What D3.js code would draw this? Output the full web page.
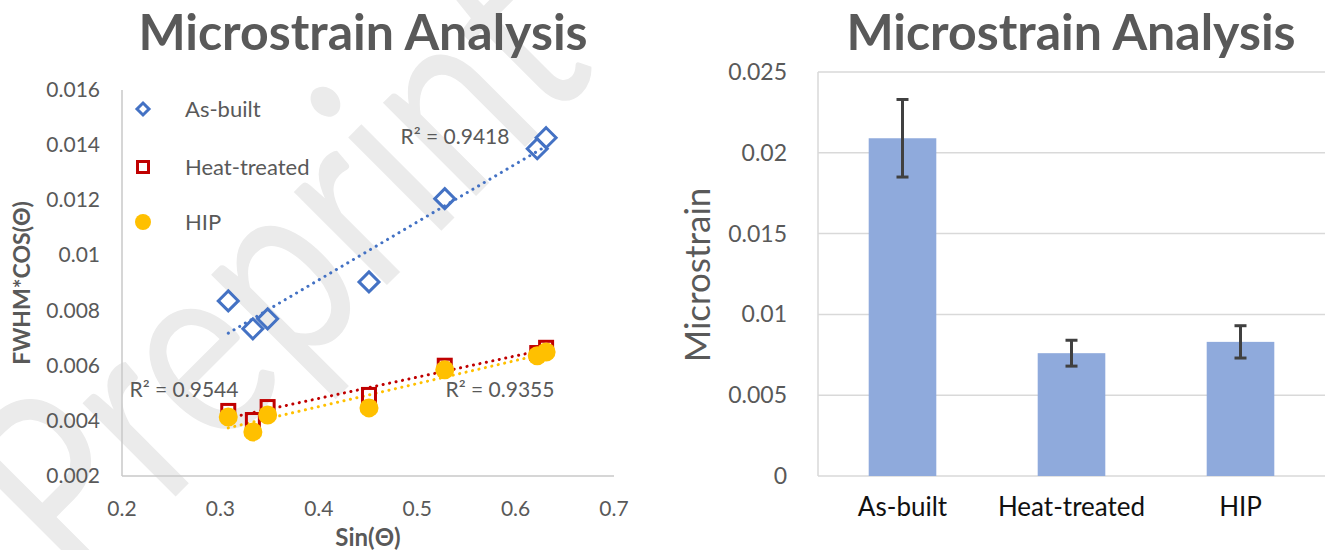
<!DOCTYPE html>
<html>
<head>
<meta charset="utf-8">
<script src="https://cdn.jsdelivr.net/npm/d3@7"></script>
<style>
  body { margin: 0; background: #fff; }
  svg { display: block; font-family: Lato, "Open Sans", sans-serif; }
</style>
</head>
<body>
<svg id="chart"></svg>
<script>
// values
var sinTheta = [0.308, 0.333, 0.348, 0.451, 0.528, 0.622, 0.631];
var asBuilt = [0.00835, 0.00734, 0.0077, 0.00904, 0.01206, 0.01387, 0.01427];
var heatTreated = [0.00436, 0.00403, 0.0045, 0.00494, 0.0060, 0.00646, 0.00665];
var hip = [0.00414, 0.0036, 0.00421, 0.00447, 0.00585, 0.00636, 0.0065];
var seriesNames = ["As-built", "Heat-treated", "HIP"];
var r2Labels = ["R\u00b2 = 0.9418", "R\u00b2 = 0.9544", "R\u00b2 = 0.9355"];
var scatterXTicks = [0.2, 0.3, 0.4, 0.5, 0.6, 0.7];
var scatterYTicks = [0.002, 0.004, 0.006, 0.008, 0.01, 0.012, 0.014, 0.016];

var categories = ["As-built", "Heat-treated", "HIP"];
var microstrain = [0.0209, 0.0076, 0.0083];
var microstrainErr = [0.0024, 0.0008, 0.001];
var barYTicks = [0, 0.005, 0.01, 0.015, 0.02, 0.025];

var width = 1325;
var height = 550;
var grey = "#595959";
var colors = ["#4472c4", "#c00000", "#ffc000"];

var svg = d3.select("#chart")
    .attr("width", width)
    .attr("height", height)
    .attr("xmlns", "http://www.w3.org/2000/svg");

var fmt = function (v) { return String(+v.toFixed(4)); };

// watermark behind the left chart
svg.append("text")
    .attr("transform", "translate(78,594) rotate(-45)")
    .attr("textLength", 738)
    .attr("lengthAdjust", "spacingAndGlyphs")
    .text("Preprint")
    .style("font-size", "260px")
    .style("fill", "#ebebeb");

function drawScatter() {
    var x = d3.scaleLinear().domain([0.2, 0.7]).range([122, 614]);
    var y = d3.scaleLinear().domain([0.002, 0.016]).range([476, 90]);
    var g = svg.append("g");

    g.append("line").attr("x1", 122).attr("x2", 122).attr("y1", y(0.016)).attr("y2", y(0.002))
        .style("stroke", "#c8c8c8").style("stroke-width", 1.5);
    g.append("line").attr("x1", 122).attr("x2", 614).attr("y1", y(0.002)).attr("y2", y(0.002))
        .style("stroke", "#c8c8c8").style("stroke-width", 1.5);

    g.selectAll(".xTick").data(scatterXTicks).enter().append("text")
        .attr("x", function (d) { return x(d); })
        .attr("y", 516)
        .attr("text-anchor", "middle")
        .text(fmt)
        .style("font-size", "21px").style("fill", grey);
    g.selectAll(".yTick").data(scatterYTicks).enter().append("text")
        .attr("x", 100)
        .attr("y", function (d) { return y(d) + 7; })
        .attr("text-anchor", "end")
        .text(fmt)
        .style("font-size", "21px").style("fill", grey);

    g.append("text").attr("x", 368).attr("y", 546).attr("text-anchor", "middle")
        .text("Sin(\u0398)")
        .style("font-size", "24px").style("font-weight", "bold").style("fill", grey);
    g.append("text").attr("transform", "translate(30,283) rotate(-90)").attr("text-anchor", "middle")
        .text("FWHM*COS(\u0398)")
        .style("font-size", "23px").style("font-weight", "bold").style("fill", grey);

    g.append("text").attr("x", 363).attr("y", 50).attr("text-anchor", "middle")
        .text("Microstrain Analysis")
        .style("font-size", "50px").style("font-weight", "bold").style("fill", grey);

    var series = [asBuilt, heatTreated, hip];

    // linear trendlines over each series' x range
    series.forEach(function (vals, si) {
        var mx = d3.mean(sinTheta), my = d3.mean(vals);
        var sxy = d3.sum(sinTheta, function (v, i) { return (v - mx) * (vals[i] - my); });
        var sxx = d3.sum(sinTheta, function (v) { return (v - mx) * (v - mx); });
        var slope = sxy / sxx, icpt = my - slope * mx;
        var ext = d3.extent(sinTheta);
        g.append("line")
            .attr("x1", x(ext[0])).attr("y1", y(icpt + slope * ext[0]))
            .attr("x2", x(ext[1])).attr("y2", y(icpt + slope * ext[1]))
            .style("stroke", colors[si]).style("stroke-width", 3)
            .style("stroke-linecap", "round").style("stroke-dasharray", "0.1,6.5");
    });

    var pts = function (vals) {
        return vals.map(function (v, i) { return { x: sinTheta[i], y: v }; });
    };

    g.selectAll(".diamond").data(pts(asBuilt)).enter().append("path")
        .attr("d", "M0,-10L10,0L0,10L-10,0Z")
        .attr("transform", function (d) { return "translate(" + x(d.x) + "," + y(d.y) + ")"; })
        .style("fill", "none").style("stroke", colors[0]).style("stroke-width", 3);
    g.selectAll(".square").data(pts(heatTreated)).enter().append("rect")
        .attr("x", function (d) { return x(d.x) - 6.5; })
        .attr("y", function (d) { return y(d.y) - 6.5; })
        .attr("width", 13).attr("height", 13)
        .style("fill", "none").style("stroke", colors[1]).style("stroke-width", 3);
    g.selectAll(".dot").data(pts(hip)).enter().append("circle")
        .attr("cx", function (d) { return x(d.x); })
        .attr("cy", function (d) { return y(d.y); })
        .attr("r", 9.5)
        .style("fill", colors[2]);

    // R² labels
    var r2Pos = [[455, 144], [184, 397], [500, 397]];
    r2Labels.forEach(function (t, i) {
        g.append("text").attr("x", r2Pos[i][0]).attr("y", r2Pos[i][1]).attr("text-anchor", "middle")
            .text(t).style("font-size", "21px").style("fill", grey);
    });

    // legend
    var legY = [109, 167, 222];
    g.append("path").attr("d", "M143,103L149,109L143,115L137,109Z")
        .style("fill", "none").style("stroke", colors[0]).style("stroke-width", 3);
    g.append("rect").attr("x", 137.5).attr("y", legY[1] - 5.5).attr("width", 11).attr("height", 11)
        .style("fill", "none").style("stroke", colors[1]).style("stroke-width", 3);
    g.append("circle").attr("cx", 143).attr("cy", legY[2]).attr("r", 8).style("fill", colors[2]);
    seriesNames.forEach(function (n, i) {
        g.append("text").attr("x", 185).attr("y", legY[i] + 8).text(n)
            .style("font-size", "22px").style("fill", grey);
    });
}

function drawBars() {
    var x = d3.scaleBand().domain(categories).range([818, 1325]).paddingInner(0.6).paddingOuter(0.3);
    var y = d3.scaleLinear().domain([0, 0.025]).range([476, 72]);
    var g = svg.append("g");

    g.selectAll(".grid").data(barYTicks).enter().append("line")
        .attr("x1", 818).attr("x2", 1325)
        .attr("y1", function (d) { return y(d); }).attr("y2", function (d) { return y(d); })
        .style("stroke", "#d9d9d9").style("stroke-width", 1.5);
    g.append("line").attr("x1", 818).attr("x2", 818).attr("y1", y(0.025)).attr("y2", y(0))
        .style("stroke", "#d9d9d9").style("stroke-width", 1.5);

    g.selectAll(".yTick").data(barYTicks).enter().append("text")
        .attr("x", 787)
        .attr("y", function (d) { return y(d) + 8; })
        .attr("text-anchor", "end")
        .text(fmt)
        .style("font-size", "23px").style("fill", grey);

    g.selectAll(".bar").data(categories).enter().append("rect")
        .attr("x", function (d) { return x(d); })
        .attr("y", function (d, i) { return y(microstrain[i]); })
        .attr("width", x.bandwidth())
        .attr("height", function (d, i) { return y(0) - y(microstrain[i]); })
        .style("fill", "#8faadc");

    categories.forEach(function (c, i) {
        var cx = x(c) + x.bandwidth() / 2;
        var hi = y(microstrain[i] + microstrainErr[i]), lo = y(microstrain[i] - microstrainErr[i]);
        g.append("line").attr("x1", cx).attr("x2", cx).attr("y1", hi).attr("y2", lo)
            .style("stroke", "#404040").style("stroke-width", 3);
        [hi, lo].forEach(function (yy) {
            g.append("line").attr("x1", cx - 6).attr("x2", cx + 6).attr("y1", yy).attr("y2", yy)
                .style("stroke", "#404040").style("stroke-width", 3);
        });
        g.append("text").attr("x", cx).attr("y", 516).attr("text-anchor", "middle")
            .text(c).style("font-size", "26px").style("fill", "#111");
    });

    g.append("text").attr("transform", "translate(710,275) rotate(-90)").attr("text-anchor", "middle")
        .text("Microstrain")
        .style("font-size", "35px").style("fill", grey);

    g.append("text").attr("x", 1071).attr("y", 50).attr("text-anchor", "middle")
        .text("Microstrain Analysis")
        .style("font-size", "50px").style("font-weight", "bold").style("fill", grey);
}

drawScatter();
drawBars();
</script>
</body>
</html>
